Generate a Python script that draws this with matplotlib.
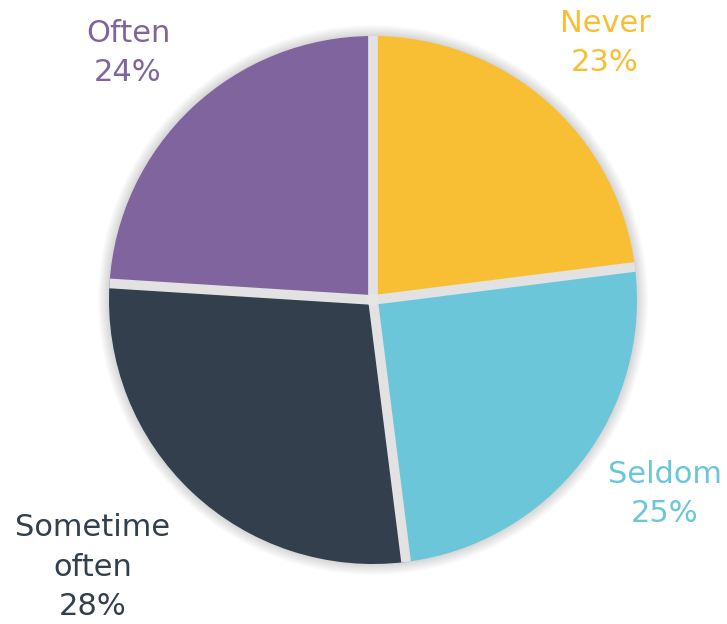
import numpy as np
import matplotlib.pyplot as plt
from matplotlib.patches import Circle

labels = ['Never', 'Seldom', 'Sometime\noften', 'Often']
shares = [23, 25, 28, 24]
colors = ['#F8BF34', '#6BC6D9', '#333F4D', '#7F649E']
label_pos = [(605, 43), (665, 494), (93, 567), (128, 53)]

W, H = 727, 624
CX, CY, R = 373, 300, 264

fig = plt.figure(figsize=(W / 100, H / 100), dpi=100)
ax = fig.add_axes([0, 0, 1, 1])

wedges, _ = ax.pie(shares, colors=colors, startangle=90, counterclock=False,
                   center=(CX, H - CY), radius=R,
                   wedgeprops=dict(linewidth=0))
for w in wedges:
    w.set_zorder(2)

# grey gaps between the slices
bounds = 90 - 360 * np.cumsum([0] + shares[:-1]) / sum(shares)
for a in np.radians(bounds):
    ax.plot([CX, CX + R * np.cos(a)], [H - CY, H - CY + R * np.sin(a)],
            color='#e2e2e2', lw=7, solid_capstyle='butt', zorder=2.5)
ax.add_patch(Circle((CX, H - CY), 6, color='#e6e6e6', lw=0, zorder=2.6))

# soft grey halo behind the pie
for i in range(10):
    ax.add_patch(Circle((CX, H - CY), R + 11 - i * 1.1, color='#000000',
                        alpha=0.014, lw=0, zorder=1))

for lab, val, col, (x, y) in zip(labels, shares, colors, label_pos):
    ax.text(x, H - y, f'{lab}\n{val}%', color=col, fontsize=22,
            ha='center', va='center', linespacing=1.45,
            family='DejaVu Sans', zorder=3)

ax.set_xlim(0, W)
ax.set_ylim(0, H)
ax.set_aspect('equal')
ax.axis('off')

fig.savefig('out.png', dpi=100, facecolor='white')
